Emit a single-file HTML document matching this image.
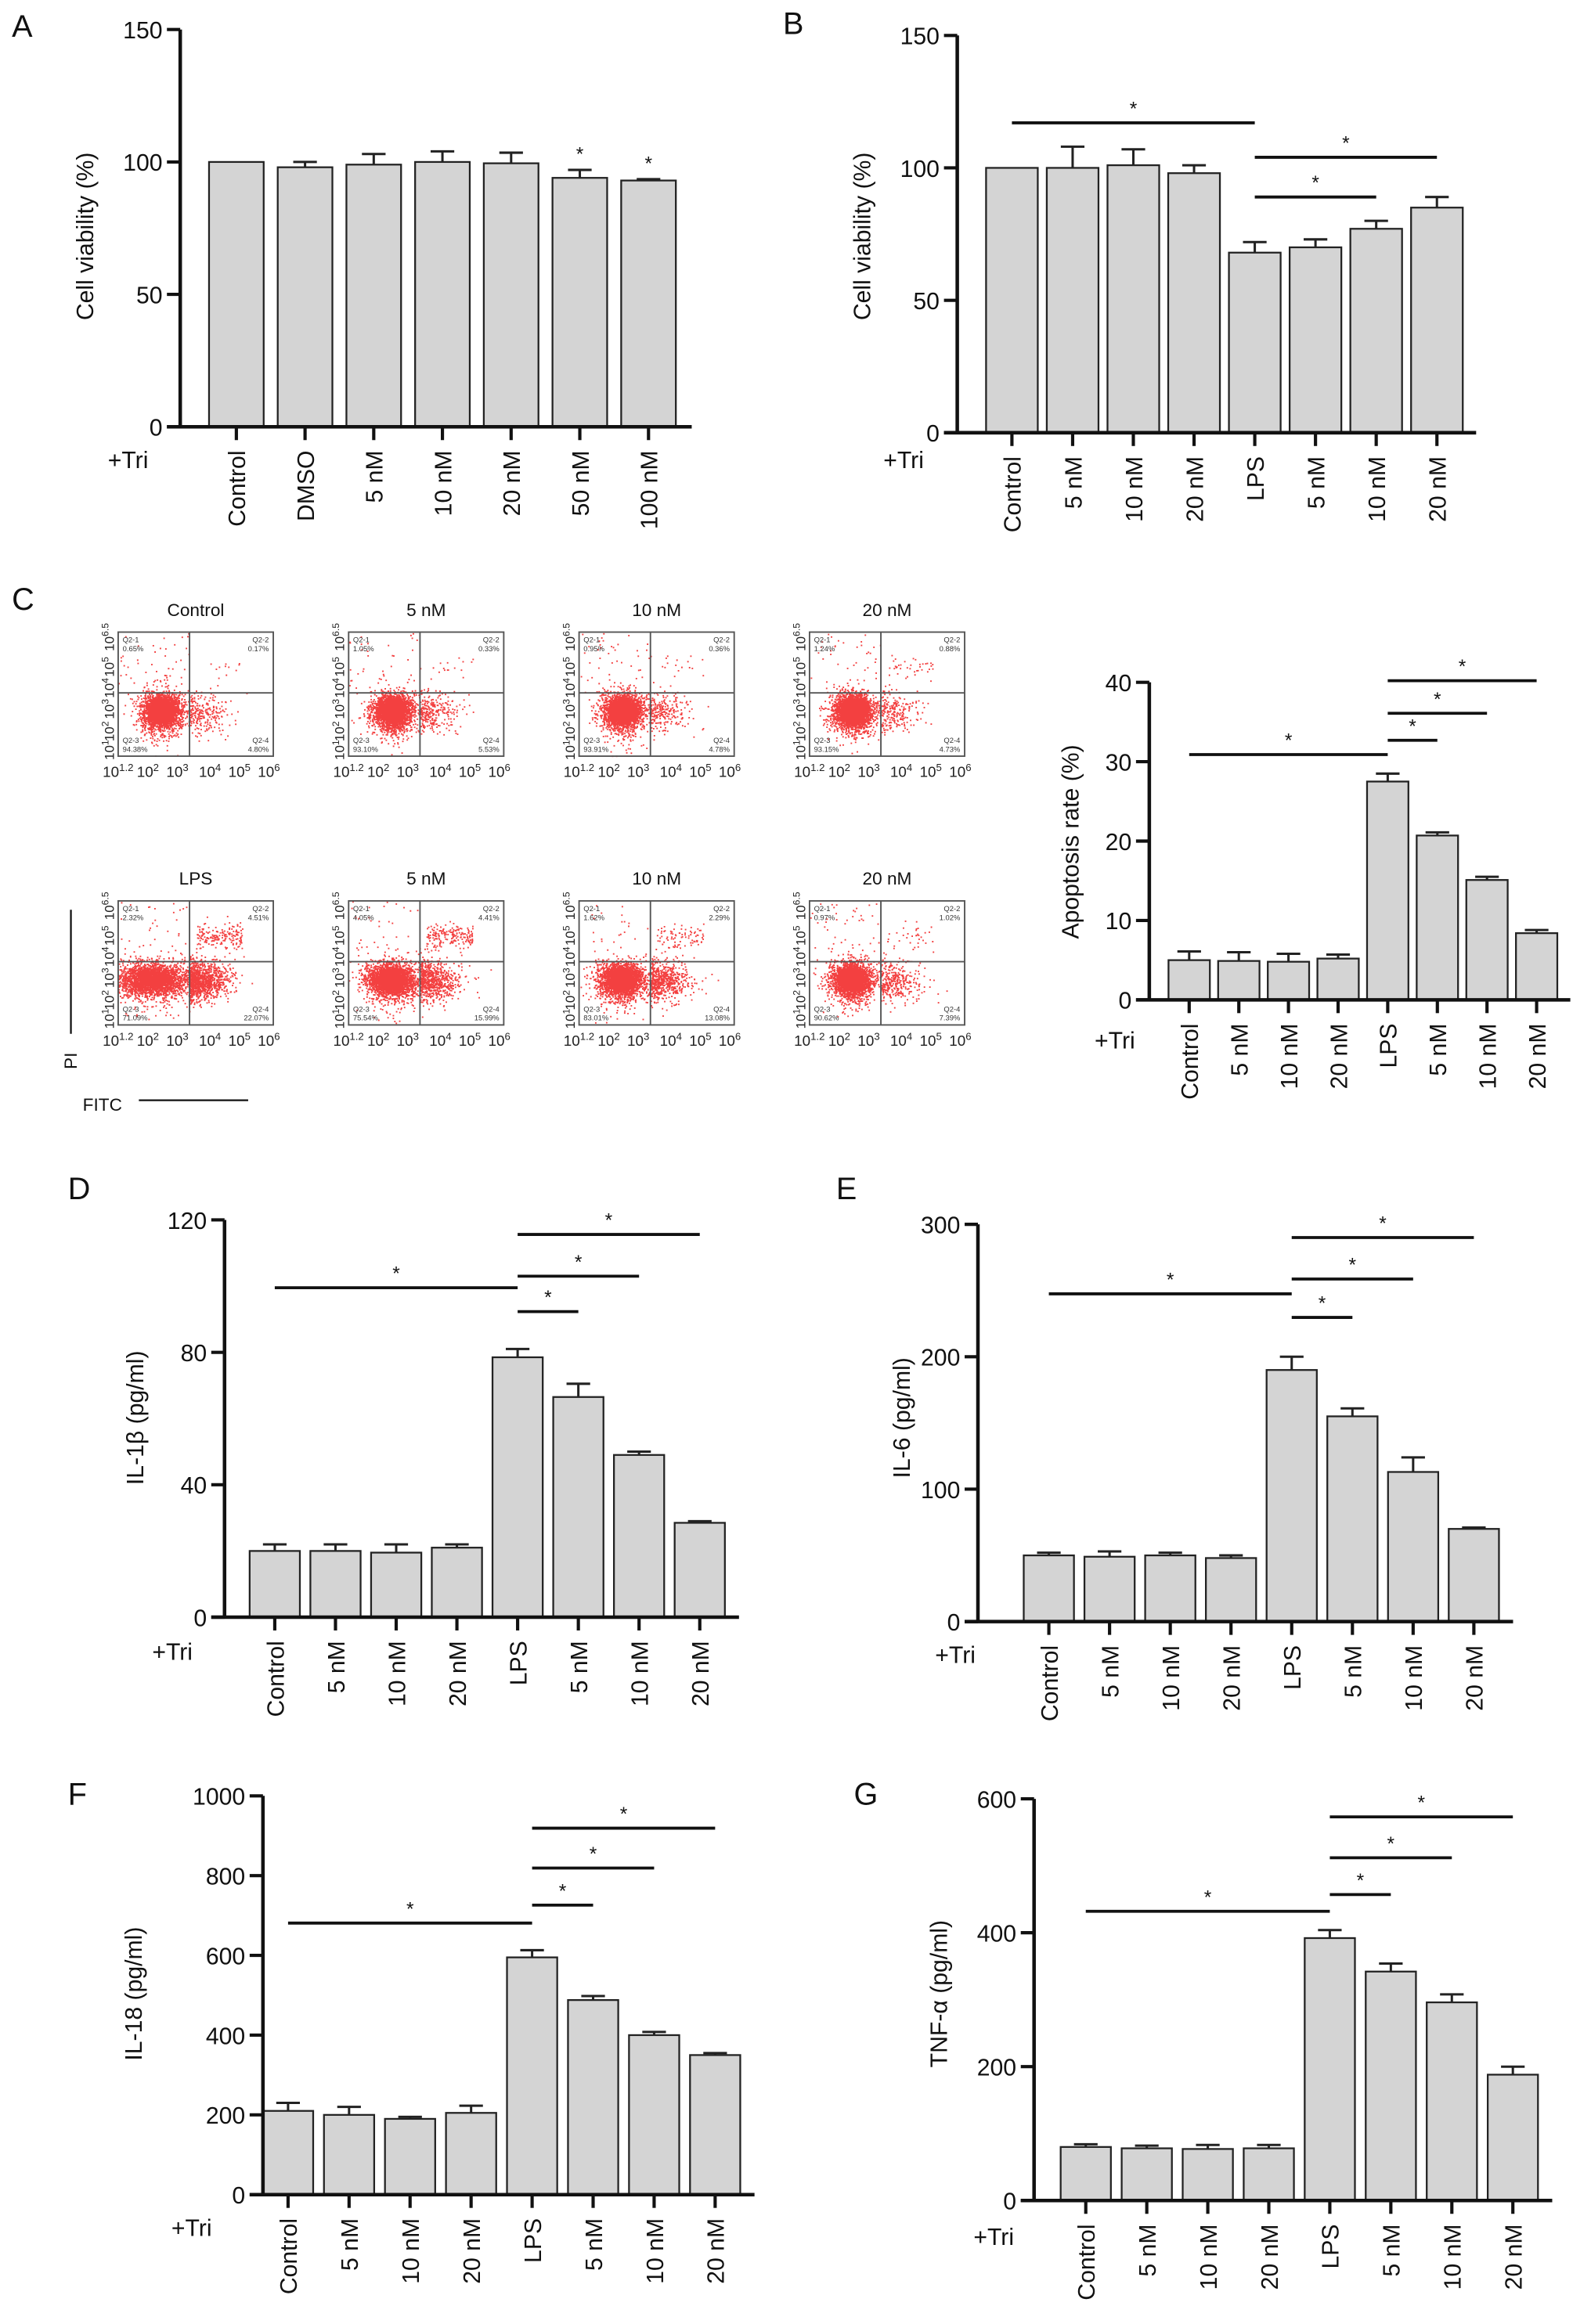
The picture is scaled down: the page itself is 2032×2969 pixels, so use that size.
<!DOCTYPE html>
<html><head><meta charset="utf-8"><style>
html,body{margin:0;padding:0;background:#fff}
svg{display:block;font-family:"Liberation Sans",Arial,sans-serif}
</style></head><body>
<svg id="fig" xmlns="http://www.w3.org/2000/svg" width="2032" height="2969" viewBox="0 0 1077 1573.6" preserveAspectRatio="none">
<rect width="1077" height="1574" fill="#fff"/>
</svg>
<script>
// ---- data ----
const catsA = ["Control","DMSO","5 nM","10 nM","20 nM","50 nM","100 nM"];
const valsA = [100,98,99,100,99.5,94,93];
const errsA = [0,2,4,4,4,3,0.5];
const starsA = [5,6];

const catsStd = ["Control","5 nM","10 nM","20 nM","LPS","5 nM","10 nM","20 nM"];
const valsB = [100,100,101,98,68,70,77,85];
const errsB = [0,8,6,3,4,3,3,4];
const bracketsB = [[0,4,117],[4,7,104],[4,6,89]];

const valsC = [5,4.9,4.8,5.2,27.5,20.7,15.1,8.4];
const errsC = [1.1,1.1,1,0.5,1,0.4,0.4,0.4];
const bracketsC = [[0,4,30.9],[4,5,32.7],[4,6,36.1],[4,7,40.2]];

const valsD = [20,20,19.5,21,78.5,66.5,49,28.5];
const errsD = [2,2,2.5,1,2.5,4,1,0.5];
const bracketsD = [[0,4,99.5],[4,5,92.3],[4,6,103],[4,7,115.6]];

const valsE = [50,49,50,48,190,155,113,70];
const errsE = [2,4,2,2,10,6,11,1];
const bracketsE = [[0,4,247.5],[4,5,229.7],[4,6,258.7],[4,7,290]];

const valsF = [210,200,190,205,595,488,400,350];
const errsF = [20,20,5,18,18,10,8,5];
const bracketsF = [[0,4,681],[4,5,726],[4,6,819],[4,7,919]];

const valsG = [80,78,77,78,392,342,296,188];
const errsG = [4,4,6,5,12,12,12,12];
const bracketsG = [[0,4,432],[4,5,457],[4,6,512],[4,7,573]];

const flowTitles = ["Control","5 nM","10 nM","20 nM","LPS","5 nM","10 nM","20 nM"];
const flowQ1 = ["0.65%","1.05%","0.95%","1.24%","2.32%","4.05%","1.62%","0.97%"];
const flowQ2 = ["0.17%","0.33%","0.36%","0.88%","4.51%","4.41%","2.29%","1.02%"];
const flowQ3 = ["94.38%","93.10%","93.91%","93.15%","71.09%","75.54%","83.01%","90.62%"];
const flowQ4 = ["4.80%","5.53%","4.78%","4.73%","22.07%","15.99%","13.08%","7.39%"];

// ---- helpers ----
const NS="http://www.w3.org/2000/svg";
const svg=document.getElementById('fig');
function mk(tag,attrs,parent,text){const e=document.createElementNS(NS,tag);for(const k in attrs)e.setAttribute(k,attrs[k]);if(text!==undefined)e.textContent=text;(parent||svg).appendChild(e);return e;}

function barPanel(o){
  const g=mk('g',{});
  
  
  const y=v=>o.y0-(v/o.max)*(o.y0-o.yTop);
  const x=i=>o.x0+o.step*i;
  const L=mk('text',{x:o.letter[0],y:o.letter[1],'font-size':21,fill:'#111'},g,o.letter[2]);
  
  
  o.vals.forEach((v,i)=>{
    const e=o.errs[i], cx=x(i);
    if(e>0){
      const eb=mk('path',{d:`M${cx} ${y(v)}V${y(v+e)}M${cx-8} ${y(v+e)}H${cx+8}`,stroke:'#222','stroke-width':1.6,fill:'none'},g);
      
      
    }
    const r=mk('rect',{x:cx-o.bw/2,y:y(v),width:o.bw,height:o.y0-y(v),fill:'#d4d4d4',stroke:'#222','stroke-width':1.2},g);
    
    
    const t=mk('line',{x1:cx,x2:cx,y1:o.y0,y2:o.y0+9,stroke:'#111','stroke-width':2.2},g);
    
    
    const lab=mk('text',{transform:`translate(${cx+6},${o.y0+16}) rotate(-90)`,'text-anchor':'end','font-size':o.fs,fill:'#111'},g,o.cats[i]);
    
    
  });
  const ax=mk('path',{d:`M${o.axX} ${o.yTop}V${o.y0}M${o.axX-9} ${o.y0}H${x(o.vals.length-1)+o.step/2+6}`,stroke:'#111','stroke-width':2.4,fill:'none'},g);
  
  
  o.ticks.forEach(tv=>{
    mk('line',{x1:o.axX-9,x2:o.axX,y1:y(tv),y2:y(tv),stroke:'#111','stroke-width':2.2},g);
    const tl=mk('text',{x:o.axX-12,y:y(tv)+6,'text-anchor':'end','font-size':o.fs,fill:'#111'},g,String(tv));
    
    
  });
  const yt=mk('text',{transform:`translate(${o.title[0]},${o.title[1]}) rotate(-90)`,'text-anchor':'middle','font-size':o.fs,fill:'#111'},g,o.title[2]);
  
  
  const tri=mk('text',{x:o.tri[0],y:o.tri[1],'font-size':o.fs,fill:'#111'},g,'+Tri');
  
  
  (o.brackets||[]).forEach(b=>{
    const by=y(b[2]);
    const bl=mk('line',{x1:x(b[0]),x2:x(b[1]),y1:by,y2:by,stroke:'#111','stroke-width':2},g);
    
    
    const s=mk('text',{x:(x(b[0])+x(b[1]))/2,y:by-5,'text-anchor':'middle','font-size':13,fill:'#111'},g,'*');
    
    
  });
  (o.stars||[]).forEach(i=>{
    const s=mk('text',{x:x(i),y:y(o.vals[i]+o.errs[i])-6,'text-anchor':'middle','font-size':13,fill:'#111'},g,'*');
    
    
  });
}

barPanel({name:'panel-a',cats:catsA,vals:valsA,errs:errsA,stars:starsA,x0:160,step:46.5,bw:37,axX:122,y0:289,yTop:20,max:150,ticks:[0,50,100,150],fs:16,title:[63,160,'Cell viability (%)'],tri:[73,317],letter:[8,25,'A']});
barPanel({name:'panel-b',cats:catsStd,vals:valsB,errs:errsB,brackets:bracketsB,x0:685,step:41.1,bw:35,axX:648,y0:293,yTop:24,max:150,ticks:[0,50,100,150],fs:16,title:[589,160,'Cell viability (%)'],tri:[598,317],letter:[530,23,'B']});
barPanel({name:'panel-c-apoptosis',cats:catsStd,vals:valsC,errs:errsC,brackets:bracketsC,x0:805,step:33.6,bw:28,axX:778,y0:677,yTop:462,max:40,ticks:[0,10,20,30,40],fs:16,title:[730,570,'Apoptosis rate (%)'],tri:[741,710],letter:[8,413,'C']});
barPanel({name:'panel-d',cats:catsStd,vals:valsD,errs:errsD,brackets:bracketsD,x0:186,step:41.1,bw:34,axX:152,y0:1095,yTop:826,max:120,ticks:[0,40,80,120],fs:16,title:[97,960,'IL-1β (pg/ml)'],tri:[103,1124],letter:[46,812,'D']});
barPanel({name:'panel-e',cats:catsStd,vals:valsE,errs:errsE,brackets:bracketsE,x0:710,step:41.1,bw:34,axX:662,y0:1098,yTop:829,max:300,ticks:[0,100,200,300],fs:16,title:[616,960,'IL-6 (pg/ml)'],tri:[633,1126],letter:[566,812,'E']});
barPanel({name:'panel-f',cats:catsStd,vals:valsF,errs:errsF,brackets:bracketsF,x0:195,step:41.3,bw:34,axX:178,y0:1486,yTop:1216,max:1000,ticks:[0,200,400,600,800,1000],fs:16,title:[96,1350,'IL-18 (pg/ml)'],tri:[116,1514],letter:[46,1222,'F']});
barPanel({name:'panel-g',cats:catsStd,vals:valsG,errs:errsG,brackets:bracketsG,x0:735,step:41.3,bw:34,axX:700,y0:1490,yTop:1218,max:600,ticks:[0,200,400,600],fs:16,title:[641,1350,'TNF-α (pg/ml)'],tri:[659,1520],letter:[578,1222,'G']});

// ---- flow cytometry plots ----
let seed=7;
function rnd(){seed=(seed*16807)%2147483647;return (seed-1)/2147483646;}
function gauss(){let u=rnd()||1e-6,v=rnd();return Math.sqrt(-2*Math.log(u))*Math.cos(2*Math.PI*v);}
const colX=[80,236,392,548], rowY=[428,610], BW=105, BH=84;
flowTitles.forEach((t,k)=>{
  const bx=colX[k%4], by=rowY[Math.floor(k/4)];
  const g=mk('g',{});
  
  
  const tt=mk('text',{x:bx+BW/2,y:by-11,'text-anchor':'middle','font-size':12,fill:'#111'},g,t);
  
  
  let d='';
  const lps=k>=4;
  const spreadX=[0.07,0.07,0.07,0.07,0.13,0.09,0.08,0.07][k];
  const cx=lps?[0.22,0.27,0.27,0.27][k-4]:0.28;
  const n=4500;
  const q4=parseFloat(flowQ4[k])/100, q2=parseFloat(flowQ2[k])/100;
  for(let i=0;i<n;i++){
    let px,py;
    const r=rnd();
    if(r<q4){px=0.46+Math.abs(gauss())*0.12;py=0.64+gauss()*0.08;}
    else if(r<q4+q2){px=0.5+rnd()*0.3;py=0.28+gauss()*0.05;}
    else if(r<q4+q2+0.01){px=rnd()*0.46;py=rnd()*0.49;}
    else if(r<0.55){px=cx+gauss()*spreadX*0.55;py=0.63+gauss()*0.045;}
    else{px=cx+gauss()*spreadX;py=0.63+gauss()*0.07;if(rnd()<0.15)py+=Math.abs(gauss())*0.1;}
    if(px<0||px>1||py<0||py>1)continue;
    d+=`M${(bx+px*BW).toFixed(1)} ${(by+py*BH).toFixed(1)}h1v1h-1z`;
  }
  const dots=mk('path',{d:d,fill:'#f01010','fill-opacity':0.8},g);
  
  
  const box=mk('rect',{x:bx,y:by,width:BW,height:BH,fill:'none',stroke:'#555','stroke-width':1},g);
  
  
  mk('line',{x1:bx+BW*0.46,x2:bx+BW*0.46,y1:by,y2:by+BH,stroke:'#555','stroke-width':1},g);
  mk('line',{x1:bx,x2:bx+BW,y1:by+BH*0.49,y2:by+BH*0.49,stroke:'#555','stroke-width':1},g);
  const qf={'font-size':5,fill:'#333'};
  mk('text',Object.assign({x:bx+3,y:by+7},qf),g,'Q2-1');
  mk('text',Object.assign({x:bx+3,y:by+13},qf),g,flowQ1[k]);
  mk('text',Object.assign({x:bx+BW-3,y:by+7,'text-anchor':'end'},qf),g,'Q2-2');
  mk('text',Object.assign({x:bx+BW-3,y:by+13,'text-anchor':'end'},qf),g,flowQ2[k]);
  mk('text',Object.assign({x:bx+3,y:by+BH-9},qf),g,'Q2-3');
  mk('text',Object.assign({x:bx+3,y:by+BH-3},qf),g,flowQ3[k]);
  mk('text',Object.assign({x:bx+BW-3,y:by+BH-9,'text-anchor':'end'},qf),g,'Q2-4');
  mk('text',Object.assign({x:bx+BW-3,y:by+BH-3,'text-anchor':'end'},qf),g,flowQ4[k]);
  const xl=[['1.2',-0.1],['2',0.12],['3',0.31],['4',0.52],['5',0.71],['6',0.9]];
  xl.forEach(p=>{
    const tx=mk('text',{x:bx+p[1]*BW,y:by+BH+14,'font-size':10,fill:'#222'},g);
    
    
    mk('tspan',{},tx,'10');
    mk('tspan',{dy:-4,'font-size':7},tx,p[0]);
  });
  const yl=[['1',0.95],['2',0.8],['3',0.62],['4',0.45],['5',0.28],['6.5',0.04]];
  yl.forEach(p=>{
    const ty=mk('text',{transform:`translate(${bx-3},${by+p[1]*BH}) rotate(-90)`,'text-anchor':'middle','font-size':9,fill:'#222'},g);
    
    
    mk('tspan',{},ty,'10');
    mk('tspan',{dy:-3.5,'font-size':6.5},ty,p[0]);
  });
});
const pi=mk('text',{transform:'translate(52,724) rotate(-90)','font-size':12,fill:'#111'},svg,'PI');


mk('line',{x1:48,x2:48,y1:616,y2:700,stroke:'#111','stroke-width':1.2});
const fitc=mk('text',{x:56,y:752,'font-size':12,fill:'#111'},svg,'FITC');


mk('line',{x1:94,x2:168,y1:745,y2:745,stroke:'#111','stroke-width':1.2});
</script>
</body></html>
